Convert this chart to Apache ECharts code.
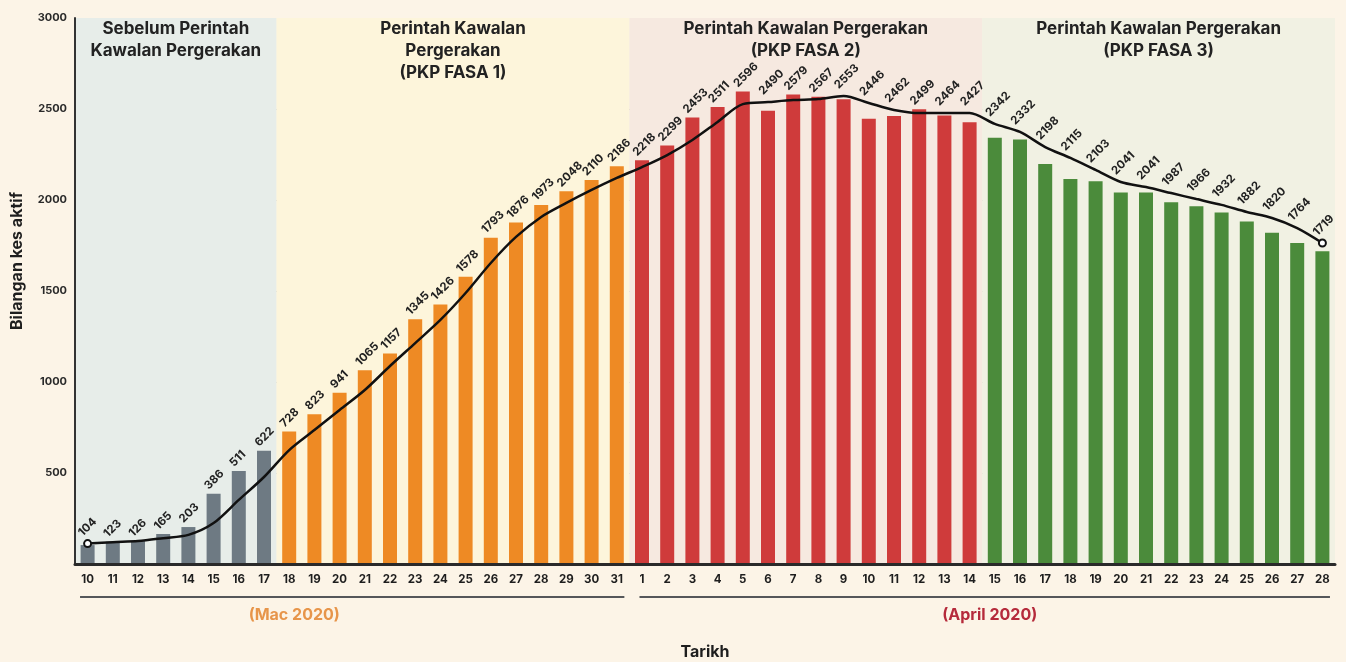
<!DOCTYPE html>
<html>
<head>
<meta charset="utf-8">
<script src="https://cdn.jsdelivr.net/npm/echarts@6/dist/echarts.min.js"></script>
<style>
  html, body { margin: 0; padding: 0; background: #fcf4e7; }
  #chart { width: 1346px; height: 662px; }
</style>
</head>
<body>
<div id="chart"></div>
<script>
// tarikh (Mac 10 - 31, April 1 - 28)
const marchDays = ['10', '11', '12', '13', '14', '15', '16', '17', '18', '19', '20',
  '21', '22', '23', '24', '25', '26', '27', '28', '29', '30', '31']
const aprilDays = ['1', '2', '3', '4', '5', '6', '7', '8', '9', '10', '11', '12', '13', '14',
  '15', '16', '17', '18', '19', '20', '21', '22', '23', '24', '25', '26', '27', '28']
const days = marchDays.concat(aprilDays)

// bilangan kes aktif
const activeCases = [104, 123, 126, 165, 203, 386, 511, 622, 728, 823, 941,
  1065, 1157, 1345, 1426, 1578, 1793, 1876, 1973, 2048, 2110, 2186,
  2218, 2299, 2453, 2511, 2596, 2490, 2579, 2567, 2553, 2446, 2462, 2499, 2464, 2427,
  2342, 2332, 2198, 2115, 2103, 2041, 2041, 1987, 1966, 1932, 1882, 1820, 1764, 1719]

// garis trend
const trendLine = [112, 120, 126, 142, 160, 225, 352, 478, 626, 736, 846,
  956, 1088, 1214, 1341, 1489, 1654, 1797, 1907, 1984, 2055, 2121,
  2181, 2247, 2330, 2429, 2527, 2538, 2549, 2555, 2571, 2533, 2495, 2478, 2478, 2478,
  2418, 2374, 2291, 2231, 2165, 2099, 2071, 2038, 2005, 1973, 1934, 1901, 1846, 1764]

// fasa: indeks mula setiap fasa
const phaseTitles = [
  'Sebelum Perintah\nKawalan Pergerakan',
  'Perintah Kawalan\nPergerakan\n(PKP FASA 1)',
  'Perintah Kawalan Pergerakan\n(PKP FASA 2)',
  'Perintah Kawalan Pergerakan\n(PKP FASA 3)'
]
const phaseStart = [0, 8, 22, 36]
const monthLabels = ['(Mac 2020)', '(April 2020)']

const FONT = 'Inter, "Open Sans", sans-serif'
const barColors = ['#6e7a83', '#ee8a24', '#cf3b3b', '#4b8b3b']
const bgColors = ['#e7ede9', '#fdf5db', '#f6e9e0', '#f1f1e3']
const monthColors = ['#e7954a', '#b52a3b']

const Y_MAX = 3000
const GRID = { left: 75, right: 11, top: 18, bottom: 98 }
const pxPerUnit = (662 - GRID.top - GRID.bottom) / Y_MAX
const LABEL_ROT = 45

function phaseOf(i) {
  let p = 0
  phaseStart.forEach((s, k) => { if (i >= s) p = k })
  return p
}

// offset label dalam rangka putaran (zrender putar offset bersama teks)
function rotatedOffset(dx, dy) {
  const c = Math.cos(LABEL_ROT * Math.PI / 180)
  return [(dx - dy) / (2 * c), (dx + dy) / (2 * c)]
}

const chart = echarts.init(document.getElementById('chart'))

const zoneData = phaseTitles.map((t, k) => {
  const end = k < phaseStart.length - 1 ? phaseStart[k + 1] : days.length
  return [
    { name: t, xAxis: phaseStart[k], itemStyle: { color: bgColors[k] } },
    { xAxis: end }
  ]
})

// label diletak di atas bar atau garis trend, mana yang lebih tinggi
const barData = activeCases.map((v, i) => {
  const lift = trendLine[i] > v ? (trendLine[i] - v) * pxPerUnit + 3 : 0
  return { value: v, label: { offset: rotatedOffset(-3, -lift) } }
})

const option = {
  animation: false,
  backgroundColor: '#fcf4e7',
  textStyle: { fontFamily: FONT },
  grid: Object.assign({ outerBoundsMode: 'none' }, GRID),
  xAxis: [
    {
      type: 'category',
      data: days,
      z: 3,
      axisLine: { lineStyle: { color: '#2a2a2a', width: 3 } },
      axisTick: { show: false },
      axisLabel: {
        interval: 0, margin: 10, color: '#1e1e1e',
        fontSize: 11.5, fontWeight: 'bold', fontFamily: FONT
      },
      name: 'Tarikh',
      nameLocation: 'middle',
      nameGap: 80,
      nameTextStyle: { fontSize: 16, fontWeight: 'bold', color: '#1e1e1e', fontFamily: FONT }
    },
    { type: 'value', min: 0, max: days.length, show: false }
  ],
  yAxis: {
    type: 'value',
    min: 0,
    max: Y_MAX,
    interval: 500,
    z: 1,
    axisLine: { show: true, lineStyle: { color: '#333', width: 2 } },
    axisTick: { show: false },
    splitLine: { show: true, showMaxLine: false, lineStyle: { color: '#c8c3b7', width: 1 } },
    axisLabel: {
      formatter: v => (v === 0 ? '' : v),
      margin: 8, color: '#2a2a2a', fontSize: 11, fontWeight: 'bold', fontFamily: FONT
    },
    name: 'Bilangan kes aktif',
    nameLocation: 'middle',
    nameGap: 50,
    nameRotate: 90,
    nameTextStyle: {
      fontSize: 16, fontWeight: 'bold', color: '#1e1e1e', fontFamily: FONT,
      padding: [0, 0, 0, 60]
    }
  },
  series: [
    {
      name: 'zones',
      type: 'line',
      xAxisIndex: 1,
      data: [],
      z: 0,
      silent: true,
      markArea: {
        silent: true,
        label: {
          show: true,
          position: 'insideTop',
          distance: 0,
          formatter: '{b}',
          color: '#222',
          fontSize: 17,
          fontWeight: 'bold',
          lineHeight: 22,
          fontFamily: FONT
        },
        data: zoneData
      }
    },
    {
      name: 'Kes aktif',
      type: 'bar',
      data: barData,
      barWidth: 14,
      z: 2,
      silent: true,
      itemStyle: { color: p => barColors[phaseOf(p.dataIndex)] },
      label: {
        show: true,
        position: 'top',
        rotate: LABEL_ROT,
        align: 'left',
        verticalAlign: 'bottom',
        distance: 2,
        color: '#222',
        fontSize: 11.5,
        fontWeight: 'bold',
        fontFamily: FONT
      }
    },
    {
      name: 'Trend',
      type: 'line',
      data: trendLine,
      smooth: 0.3,
      z: 3,
      silent: true,
      showAllSymbol: true,
      symbol: 'emptyCircle',
      symbolSize: (v, p) => (p.dataIndex === 0 || p.dataIndex === trendLine.length - 1 ? 7 : 0),
      itemStyle: { color: '#111', borderWidth: 1.5 },
      lineStyle: { color: '#111', width: 2.5 }
    }
  ]
}

chart.setOption(option)

// garisan bulan di bawah paksi
const px = v => chart.convertToPixel({ xAxisIndex: 1 }, v)
const lineY = 597
const spans = [[0.2, marchDays.length - 0.2], [marchDays.length + 0.4, days.length - 0.2]]
const labelAt = [8.7, 36.3]
const graphics = []
spans.forEach((s, k) => {
  graphics.push({
    type: 'line',
    shape: { x1: px(s[0]), y1: lineY, x2: px(s[1]), y2: lineY },
    style: { stroke: '#55575a', lineWidth: 2 }
  })
  graphics.push({
    type: 'text',
    x: px(labelAt[k]),
    y: lineY + 18,
    style: {
      text: monthLabels[k],
      fill: monthColors[k],
      font: 'bold 16px ' + FONT,
      align: 'center',
      verticalAlign: 'middle'
    }
  })
})
chart.setOption({ graphic: graphics })
</script>
</body>
</html>
